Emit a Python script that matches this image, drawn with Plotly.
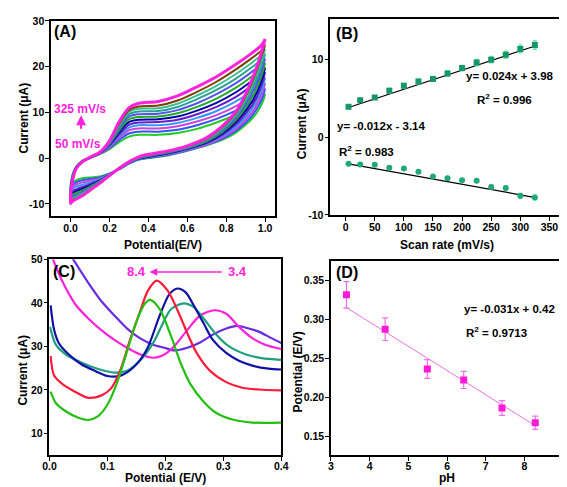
import plotly.graph_objects as go

# ---------------- Panel A: CV curves ----------------
scan_rates_A = [50, 75, 100, 125, 150, 175, 200, 225, 250, 275, 300, 325]
E_up = [0.00, 0.01, 0.03, 0.06, 0.10, 0.15, 0.20, 0.25, 0.30, 0.35, 0.45, 0.55, 0.65, 0.75, 0.85, 0.93, 0.98, 1.00]
I_up = [
    [-6.2, -3.6, -1.8, -0.6, 0.1, 0.9, 2.0, 3.5, 4.7, 5.1, 5.1, 5.5, 6.4, 7.8, 9.5, 11.1, 12.8, 14.0],
    [-6.6, -3.8, -1.9, -0.6, 0.1, 1.0, 2.2, 4.0, 5.4, 5.8, 5.8, 6.2, 7.2, 8.6, 10.4, 12.2, 13.9, 15.2],
    [-7.0, -4.0, -1.9, -0.7, 0.1, 1.0, 2.4, 4.4, 6.1, 6.5, 6.5, 7.0, 8.0, 9.4, 11.4, 13.4, 15.1, 16.4],
    [-7.4, -4.1, -2.0, -0.7, 0.1, 1.1, 2.6, 4.8, 6.7, 7.2, 7.2, 7.7, 8.8, 10.3, 12.4, 14.6, 16.3, 17.6],
    [-7.7, -4.3, -2.0, -0.7, 0.1, 1.1, 2.8, 5.2, 7.3, 7.8, 7.9, 8.4, 9.6, 11.2, 13.4, 15.8, 17.5, 18.8],
    [-8.0, -4.4, -2.0, -0.7, 0.1, 1.1, 3.0, 5.7, 7.9, 8.4, 8.5, 9.1, 10.4, 12.1, 14.4, 16.8, 18.5, 19.8],
    [-8.3, -4.5, -2.1, -0.8, 0.1, 1.2, 3.1, 6.1, 8.5, 9.0, 9.1, 9.8, 11.2, 13.0, 15.4, 17.8, 19.5, 20.8],
    [-8.6, -4.6, -2.1, -0.8, 0.2, 1.2, 3.3, 6.5, 9.1, 9.6, 9.7, 10.5, 12.0, 14.0, 16.4, 18.8, 20.5, 21.8],
    [-8.9, -4.7, -2.1, -0.8, 0.2, 1.2, 3.4, 6.9, 9.6, 10.2, 10.3, 11.2, 12.9, 14.9, 17.4, 19.8, 21.5, 22.8],
    [-9.2, -4.8, -2.2, -0.8, 0.2, 1.3, 3.5, 7.3, 10.1, 10.8, 10.9, 11.9, 13.7, 15.8, 18.4, 20.8, 22.5, 23.8],
    [-9.5, -4.9, -2.2, -0.8, 0.2, 1.3, 3.6, 7.6, 10.5, 11.3, 11.5, 12.6, 14.5, 16.7, 19.4, 21.8, 23.5, 24.8],
    [-9.9, -5.0, -2.2, -0.8, 0.2, 1.3, 3.8, 8.0, 11.0, 12.0, 12.4, 13.6, 15.6, 17.8, 20.5, 22.9, 24.6, 26.0],
]
E_dn = [1.00, 0.99, 0.97, 0.94, 0.90, 0.85, 0.78, 0.70, 0.60, 0.50, 0.42, 0.35, 0.30, 0.25, 0.20, 0.15, 0.10, 0.06, 0.03, 0.01, 0.00]
I_dn = [
    [14.0, 12.5, 10.8, 9.0, 7.3, 5.6, 4.0, 2.8, 1.6, 0.6, 0.1, -0.3, -1.2, -2.4, -3.4, -4.0, -4.2, -4.4, -4.8, -5.5, -6.2],
    [15.2, 13.6, 11.7, 9.7, 7.8, 6.0, 4.2, 2.9, 1.7, 0.7, 0.2, -0.3, -1.2, -2.4, -3.4, -4.2, -4.5, -4.8, -5.2, -5.9, -6.6],
    [16.4, 14.7, 12.6, 10.4, 8.4, 6.4, 4.5, 3.0, 1.8, 0.8, 0.3, -0.2, -1.1, -2.3, -3.5, -4.4, -4.9, -5.3, -5.7, -6.3, -7.0],
    [17.6, 15.8, 13.6, 11.2, 9.0, 6.9, 4.8, 3.2, 1.9, 0.9, 0.4, -0.2, -1.1, -2.3, -3.5, -4.6, -5.3, -5.8, -6.2, -6.8, -7.4],
    [18.8, 17.0, 14.6, 12.0, 9.7, 7.4, 5.1, 3.3, 2.0, 1.0, 0.4, -0.1, -1.0, -2.3, -3.6, -4.8, -5.7, -6.3, -6.8, -7.2, -7.7],
    [19.8, 18.0, 15.6, 12.9, 10.4, 7.9, 5.4, 3.5, 2.1, 1.1, 0.5, -0.1, -1.0, -2.3, -3.6, -4.9, -6.0, -6.7, -7.2, -7.6, -8.0],
    [20.8, 19.1, 16.6, 13.8, 11.1, 8.4, 5.7, 3.7, 2.2, 1.2, 0.6, 0.0, -1.0, -2.2, -3.6, -5.0, -6.2, -7.1, -7.6, -8.0, -8.3],
    [21.8, 20.2, 17.6, 14.7, 11.8, 8.8, 6.0, 3.9, 2.3, 1.3, 0.7, 0.1, -0.9, -2.2, -3.7, -5.1, -6.4, -7.4, -8.0, -8.3, -8.6],
    [22.8, 21.3, 18.7, 15.6, 12.4, 9.2, 6.3, 4.0, 2.4, 1.4, 0.8, 0.1, -0.9, -2.2, -3.7, -5.2, -6.6, -7.7, -8.3, -8.7, -8.9],
    [23.8, 22.4, 19.8, 16.6, 13.0, 9.6, 6.6, 4.2, 2.5, 1.5, 0.9, 0.2, -0.9, -2.2, -3.7, -5.3, -6.8, -7.9, -8.6, -9.0, -9.2],
    [24.8, 23.4, 20.8, 17.4, 13.6, 9.9, 6.8, 4.3, 2.6, 1.5, 0.9, 0.2, -0.8, -2.2, -3.8, -5.4, -6.9, -8.1, -8.8, -9.2, -9.5],
    [26.0, 24.5, 21.5, 18.0, 14.0, 10.2, 7.0, 4.5, 2.7, 1.6, 1.0, 0.3, -0.8, -2.2, -3.8, -5.5, -7.0, -8.2, -8.9, -9.4, -9.9],
]
colors_A = ["#22cc22", "#3355ff", "#cc44dd", "#3399ff", "#6a1bc8", "#0000aa",
            "#22aa22", "#5555ee", "#2aa198", "#3cc08a", "#7b3f00", "#ff22dd"]

# ---------------- Panel B: peak current vs scan rate ----------------
scan_B = [5, 25, 50, 75, 100, 125, 150, 175, 200, 225, 250, 275, 300, 325]
ipa_B = [3.90, 4.74, 5.11, 5.99, 6.62, 7.17, 7.50, 8.18, 8.89, 9.60, 9.98, 10.60, 11.36, 11.87]
ipa_err = [0.2, 0.2, 0.2, 0.3, 0.3, 0.3, 0.3, 0.35, 0.35, 0.4, 0.4, 0.45, 0.5, 0.55]
ipc_B = [-3.43, -3.52, -3.56, -3.94, -4.03, -4.44, -5.07, -5.28, -5.53, -5.62, -6.42, -6.54, -7.55, -7.76]
ipc_err = [0.1, 0.1, 0.1, 0.1, 0.1, 0.1, 0.15, 0.15, 0.15, 0.15, 0.2, 0.25, 0.3, 0.3]
fitA_x = [5, 328]
fitA_y = [3.82, 11.80]
fitC_x = [5, 328]
fitC_y = [-3.43, -7.80]

# ---------------- Panel C: DPV at various pH ----------------
c_purple_x = [0.040, 0.067, 0.089, 0.112, 0.134, 0.156, 0.179, 0.198, 0.215, 0.238, 0.260, 0.282, 0.305, 0.324, 0.344, 0.361, 0.383, 0.400]
c_purple_y = [50.2, 44.6, 40.5, 37.1, 34.1, 31.9, 30.4, 29.7, 29.1, 29.7, 30.9, 32.7, 34.1, 34.7, 34.1, 33.4, 31.9, 30.8]
c_magenta_x = [0.006, 0.022, 0.044, 0.067, 0.089, 0.112, 0.134, 0.156, 0.179, 0.195, 0.215, 0.238, 0.260, 0.285, 0.305, 0.327, 0.350, 0.372, 0.400]
c_magenta_y = [50.0, 45.0, 39.8, 36.4, 33.8, 31.5, 29.7, 28.2, 27.4, 27.9, 30.0, 33.8, 37.1, 38.3, 37.5, 34.5, 31.9, 30.4, 29.4]
c_teal_x = [0.001, 0.011, 0.028, 0.055, 0.084, 0.112, 0.134, 0.156, 0.179, 0.196, 0.210, 0.232, 0.249, 0.266, 0.288, 0.310, 0.338, 0.366, 0.400]
c_teal_y = [34.5, 30.4, 28.2, 26.3, 24.8, 24.0, 24.4, 26.7, 30.8, 35.4, 38.6, 39.9, 39.0, 36.4, 32.7, 30.0, 28.2, 27.3, 26.9]
c_blue_x = [0.002, 0.008, 0.016, 0.033, 0.055, 0.078, 0.100, 0.123, 0.145, 0.168, 0.190, 0.207, 0.221, 0.235, 0.249, 0.266, 0.282, 0.305, 0.327, 0.350, 0.378, 0.400]
c_blue_y = [39.4, 33.8, 30.8, 28.2, 25.9, 24.4, 23.2, 23.3, 25.2, 29.3, 37.0, 42.0, 43.3, 42.4, 39.4, 35.3, 31.5, 28.5, 26.7, 25.6, 24.9, 24.7]
c_red_x = [0.002, 0.008, 0.022, 0.044, 0.067, 0.089, 0.106, 0.123, 0.139, 0.156, 0.170, 0.185, 0.204, 0.221, 0.238, 0.254, 0.277, 0.305, 0.333, 0.361, 0.400]
c_red_y = [27.8, 23.3, 21.4, 19.6, 18.2, 18.7, 20.3, 24.8, 31.5, 37.9, 42.8, 45.1, 42.8, 38.3, 33.0, 28.5, 24.4, 21.8, 20.5, 20.1, 19.9]
c_green_x = [0.002, 0.011, 0.028, 0.050, 0.067, 0.084, 0.100, 0.117, 0.134, 0.151, 0.165, 0.174, 0.190, 0.210, 0.226, 0.243, 0.266, 0.288, 0.316, 0.350, 0.400]
c_green_y = [19.6, 17.0, 15.1, 13.6, 13.1, 14.0, 16.6, 21.8, 28.9, 36.0, 39.9, 40.7, 38.6, 32.3, 26.3, 21.4, 17.3, 14.7, 13.2, 12.5, 12.5]

# ---------------- Panel D: peak potential vs pH ----------------
pH_D = [3.40, 4.40, 5.49, 6.43, 7.42, 8.28]
Ep_D = [0.331, 0.287, 0.236, 0.222, 0.186, 0.167]
Ep_err = [0.017, 0.0145, 0.012, 0.011, 0.0095, 0.0085]
fitD_x = [3.40, 8.28]
fitD_y = [0.3146, 0.1633]

FONT = "Liberation Sans, Arial, sans-serif"
MAG = "#ff22dd"
W, H = 567, 487

fig = go.Figure()

for k, sr in enumerate(scan_rates_A):
    fig.add_trace(go.Scatter(x=E_up + E_dn, y=I_up[k] + I_dn[k], mode="lines",
                             line=dict(color=colors_A[k], width=3 if sr == 325 else 2, shape="spline", smoothing=0.8),
                             xaxis="x", yaxis="y", showlegend=False, name=f"{sr} mV/s"))

fig.add_trace(go.Scatter(x=fitA_x, y=fitA_y, mode="lines", line=dict(color="black", width=1.2), xaxis="x2", yaxis="y2", showlegend=False))
fig.add_trace(go.Scatter(x=fitC_x, y=fitC_y, mode="lines", line=dict(color="black", width=1.2), xaxis="x2", yaxis="y2", showlegend=False))
fig.add_trace(go.Scatter(x=scan_B, y=ipa_B, mode="markers", marker=dict(symbol="square", size=6, color="#17966b"),
                         error_y=dict(type="data", array=ipa_err, color="#66e8a0", thickness=1.5, width=2),
                         xaxis="x2", yaxis="y2", showlegend=False))
fig.add_trace(go.Scatter(x=scan_B, y=ipc_B, mode="markers", marker=dict(symbol="circle", size=6, color="#20a878"),
                         error_y=dict(type="data", array=ipc_err, color="#66e8a0", thickness=1.5, width=2),
                         xaxis="x2", yaxis="y2", showlegend=False))

for xs, ys, col in [(c_purple_x, c_purple_y, "#6a2be0"), (c_magenta_x, c_magenta_y, MAG),
                    (c_teal_x, c_teal_y, "#1f9e80"), (c_blue_x, c_blue_y, "#1010a8"),
                    (c_red_x, c_red_y, "#ff1a3a"), (c_green_x, c_green_y, "#22c010")]:
    fig.add_trace(go.Scatter(x=xs, y=ys, mode="lines", line=dict(color=col, width=2.2, shape="spline", smoothing=0.8),
                             xaxis="x3", yaxis="y3", showlegend=False))

fig.add_trace(go.Scatter(x=fitD_x, y=fitD_y, mode="lines", line=dict(color="#f070e8", width=1), xaxis="x4", yaxis="y4", showlegend=False))
fig.add_trace(go.Scatter(x=pH_D, y=Ep_D, mode="markers", marker=dict(symbol="square", size=7, color="#ff1ad8"),
                         error_y=dict(type="data", array=Ep_err, color="#f070e8", thickness=1.2, width=3),
                         xaxis="x4", yaxis="y4", showlegend=False))


def bt(vals, fmt):
    return [f"<b>{fmt(v)}</b>" for v in vals]


def axis(domain, rng, tickvals, ticktext, anchor, is_x):
    return dict(domain=domain, range=rng, tickvals=tickvals, ticktext=ticktext,
                showline=True, mirror=True, linecolor="black", linewidth=1.5,
                ticks="outside", ticklen=4, tickwidth=1.2, tickcolor="black",
                showgrid=False, zeroline=False, anchor=anchor,
                ticklabelstandoff=-3 if is_x else -1,
                tickfont=dict(family=FONT, size=10.5, color="black"))

xA = [0.0, 0.2, 0.4, 0.6, 0.8, 1.0]
yA = [-10, 0, 10, 20, 30]
xB = [0, 50, 100, 150, 200, 250, 300, 350]
yB = [-10, 0, 10]
xC = [0.0, 0.1, 0.2, 0.3, 0.4]
yC = [10, 20, 30, 40, 50]
xD = [3, 4, 5, 6, 7, 8, 9]
yD = [0.15, 0.20, 0.25, 0.30, 0.35]

fig.update_layout(
    width=W, height=H, margin=dict(l=0, r=0, t=0, b=0),
    paper_bgcolor="white", plot_bgcolor="white", showlegend=False,
    font=dict(family=FONT, color="black"),
    xaxis=axis([0.0653, 0.4709], [-0.1, 1.053], xA, bt(xA, lambda v: f"{v:.1f}"), "y", True),
    yaxis=axis([0.5749, 0.9856], [-12.7, 30], yA, bt(yA, lambda v: f"{v}"), "x", False),
    xaxis2=axis([0.5702, 0.9917], [-26.3, 374], xB, bt(xB, lambda v: f"{v}"), "y2", True),
    yaxis2=axis([0.577, 0.9887], [-10.06, 15.16], yB, bt(yB, lambda v: f"{v}"), "x2", False),
    xaxis3=axis([0.0623, 0.4815], [0, 0.4], xC, bt(xC, lambda v: f"{v:.1f}"), "y3", True),
    yaxis3=axis([0.0739, 0.4846], [5.1, 50], yC, bt(yC, lambda v: f"{v}"), "x3", False),
    xaxis4=axis([0.5714, 0.9912], [3, 9], xD, bt(xD, lambda v: f"{v}"), "y4", True),
    yaxis4=axis([0.0739, 0.4805], [0.126, 0.374], yD, bt(yD, lambda v: f"{v:.2f}"), "x4", False),
)

ann = []
def A(text, x, y, xr, yr, size=12, color="black", xanchor="left", angle=0):
    ann.append(dict(text=text, x=x, y=y, xref=xr, yref=yr, showarrow=False, xanchor=xanchor, yanchor="middle",
                    textangle=angle, font=dict(family=FONT, size=size, color=color)))

def P(text, X, Y, size=12, angle=0):
    A(f"<b>{text}</b>", X / W, 1 - Y / H, "paper", "paper", size, "black", "center", angle)

# axis titles (pixel positions)
P("Potential(E/V)", 152, 236)
P("Current (μA)", 9, 106, angle=-90)
P("Scan rate (mV/s)", 443, 236)
P("Current (μA)", 295, 112, angle=-90)
P("Potential (E/V)", 154, 475)
P("Current (μA)", 8, 364, angle=-90)
P("pH", 443, 475)
P("Potential (E/V)", 290, 366, angle=-90)

A("<b>(A)</b>", -0.097, 27.7, "x", "y", 16)
A("<b>325 mV/s</b>", 0.049, 10.85, "x", "y", 12, MAG, "center")
A("<b>50 mV/s</b>", 0.039, 3.2, "x", "y", 12, MAG, "center")
ann.append(dict(x=0.054, y=9.4, xref="x", yref="y", ax=0, ay=22, showarrow=True, arrowhead=2, arrowsize=1,
                arrowwidth=2, arrowcolor=MAG, text=" "))

A("<b>(B)</b>", -20, 13.3, "x2", "y2", 16)
A("<b>y= 0.024x + 3.98</b>", 362, 7.9, "x2", "y2", 11.5, "black", "right")
A("<b>R<sup>2</sup> = 0.996</b>", 223, 4.9, "x2", "y2", 11.5)
A("<b>y= -0.012x - 3.14</b>", -18.4, 1.4, "x2", "y2", 11.5)
A("<b>R<sup>2</sup> = 0.983</b>", -15, -1.76, "x2", "y2", 11.5)

A("<b>(C)</b>", 0.003, 47.3, "x3", "y3", 16)
A("<b>8.4</b>", 0.151, 47.1, "x3", "y3", 13, MAG, "center")
A("<b>3.4</b>", 0.325, 47.1, "x3", "y3", 13, MAG, "center")
ann.append(dict(x=0.173, y=47.1, xref="x3", yref="y3", ax=75, ay=0, showarrow=True, arrowhead=2, arrowsize=1,
                arrowwidth=1.5, arrowcolor=MAG, text=" "))

A("<b>(D)</b>", 3.08, 0.359, "x4", "y4", 16)
A("<b>y= -0.031x + 0.42</b>", 8.85, 0.3125, "x4", "y4", 11.5, "black", "right")
A("<b>R<sup>2</sup> = 0.9713</b>", 6.43, 0.284, "x4", "y4", 11.5)

fig.update_layout(annotations=ann)
fig.write_html("out.html")
